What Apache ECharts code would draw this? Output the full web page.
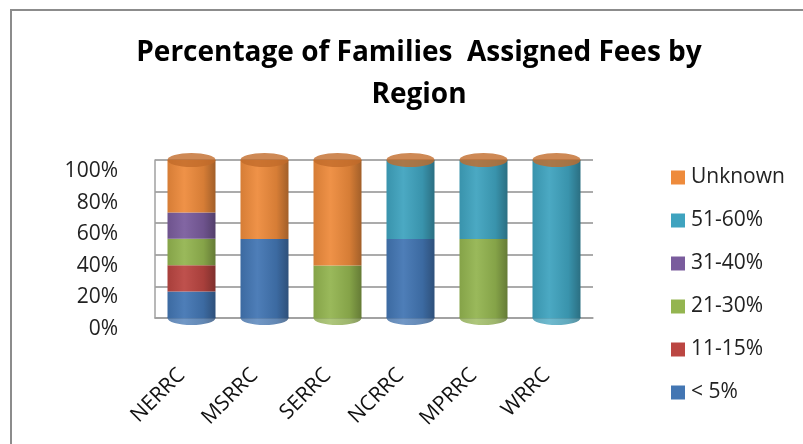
<!DOCTYPE html>
<html>
<head>
<meta charset="utf-8">
<script src="https://cdn.jsdelivr.net/npm/echarts@6/dist/echarts.min.js"></script>
<style>
  html, body { margin: 0; padding: 0; background: #fff; }
  #chart { width: 803px; height: 444px; }
</style>
</head>
<body>
<div id="chart"></div>
<script>
// regions on the x axis
const regions = ['NERRC', 'MSRRC', 'SERRC', 'NCRRC', 'MPRRC', 'WRRC'];
// fee brackets, bottom of the stack first
const brackets = ['< 5%', '11-15%', '21-30%', '31-40%', '51-60%', 'Unknown'];
const under5 = [16.7, 50, 0, 50, 0, 0];
const fee11to15 = [16.7, 0, 0, 0, 0, 0];
const fee21to30 = [16.7, 0, 33.3, 0, 50, 0];
const fee31to40 = [16.6, 0, 0, 0, 0, 0];
const fee51to60 = [0, 0, 0, 50, 50, 100];
const unknown = [33.3, 50, 66.7, 0, 0, 0];
const yTicks = [0, 20, 40, 60, 80, 100];

const seriesValues = [under5, fee11to15, fee21to30, fee31to40, fee51to60, unknown];
const colors = ['#4376b3', '#bb4642', '#94b550', '#7a5c9d', '#3fa3bf', '#ee8b3c'];

function shade(hex, f) {
  const n = parseInt(hex.slice(1), 16);
  let r = (n >> 16) & 255, g = (n >> 8) & 255, b = n & 255;
  const m = v => Math.max(0, Math.min(255, Math.round(f < 0 ? v * (1 + f) : v + (255 - v) * f)));
  return 'rgb(' + m(r) + ',' + m(g) + ',' + m(b) + ')';
}
function cyl(hex) {
  return new echarts.graphic.LinearGradient(0, 0, 1, 0, [
    { offset: 0, color: shade(hex, -0.1) },
    { offset: 0.35, color: shade(hex, 0.06) },
    { offset: 0.75, color: shade(hex, -0.1) },
    { offset: 1, color: shade(hex, -0.32) }
  ]);
}

const chart = echarts.init(document.getElementById('chart'));

const barSeries = brackets.map((name, i) => ({
  name: name,
  type: 'bar',
  stack: 'all',
  barWidth: 48,
  data: seriesValues[i],
  itemStyle: { color: cyl(colors[i]) },
  z: 2
}));

// colour of the lowest non-empty segment, for the rounded bottom of each cylinder
const bottomCap = regions.map((r, c) => {
  const s = seriesValues.findIndex(v => v[c] > 0);
  return { value: 0, itemStyle: { color: cyl(colors[s]) } };
});
const topCap = regions.map((r, c) => yTicks[yTicks.length - 1]);

chart.setOption({
  animation: false,
  title: {
    text: 'Percentage of Families  Assigned Fees by\nRegion',
    left: 414,
    top: 27,
    textAlign: 'center',
    textStyle: {
      fontFamily: 'Open Sans',
      fontWeight: 'bold',
      fontSize: 28,
      lineHeight: 42,
      color: '#000'
    }
  },
  legend: {
    orient: 'vertical',
    left: 666,
    top: 162,
    itemWidth: 14,
    itemHeight: 14,
    itemGap: 22,
    icon: 'rect',
    data: brackets.slice().reverse().map((n, k) => ({ name: n, itemStyle: { color: colors[brackets.length - 1 - k] } })),
    textStyle: { fontFamily: 'Open Sans', fontSize: 21, color: '#222', padding: [0, 0, 0, 1] }
  },
  graphic: [{
    type: 'rect',
    shape: { x: 11, y: 10, width: 900, height: 600 },
    style: { fill: 'none', stroke: '#8c8c8c', lineWidth: 2 }
  }],
  grid: { left: 155, right: 210, top: 160, bottom: 126 },
  xAxis: {
    type: 'category',
    data: regions,
    axisTick: { show: false },
    axisLine: { show: true, lineStyle: { color: '#a0a0a0', width: 1.5 } },
    axisLabel: {
      rotate: 45,
      margin: 44,
      interval: 0,
      padding: [0, 14, 0, 0],
      fontFamily: 'Open Sans',
      fontSize: 21,
      color: '#111'
    }
  },
  yAxis: {
    type: 'value',
    min: 0,
    max: 100,
    interval: 20,
    axisLine: { show: true, lineStyle: { color: '#a0a0a0', width: 1.5 } },
    axisTick: { show: false },
    splitLine: { lineStyle: { color: '#8f8f8f', width: 1.5 } },
    axisLabel: {
      margin: 37,
      verticalAlign: 'top',
      lineHeight: 22,
      fontFamily: 'Open Sans',
      fontSize: 21,
      color: '#222',
      formatter: v => v + '%'
    }
  },
  series: barSeries.concat([
    {
      name: 'bottomCap',
      type: 'scatter',
      data: bottomCap,
      symbol: 'circle',
      symbolSize: [48, 14],
      silent: true,
      z: 1
    },
    {
      name: 'topCap',
      type: 'scatter',
      data: topCap,
      symbol: 'circle',
      symbolSize: [48, 14],
      silent: true,
      itemStyle: { color: '#c26b2b' },
      z: 3
    }
  ])
});
</script>
</body>
</html>
